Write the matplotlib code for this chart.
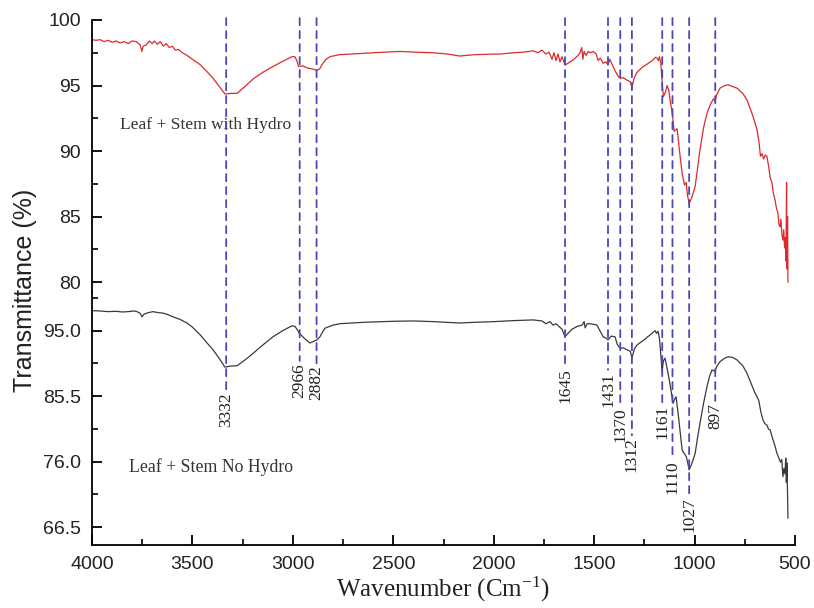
import matplotlib
matplotlib.use("Agg")
import matplotlib.pyplot as plt
from matplotlib.patches import ConnectionPatch
from matplotlib.ticker import MultipleLocator, FixedLocator, FormatStrFormatter

plt.rcParams['mathtext.default'] = 'regular'

# ---- data: Leaf + Stem with Hydro (red, top panel) ----
wn_hydro = [4000, 3980, 3960, 3940, 3920, 3900, 3880, 3860, 3840, 3820, 3800, 3780, 3760, 3752, 3745,
            3730, 3715, 3700, 3690, 3675, 3660, 3645, 3630, 3615, 3600, 3585, 3570, 3550, 3527, 3500,
            3462, 3430, 3397, 3370, 3338, 3310, 3278, 3240, 3198, 3150, 3099, 3050, 3004, 2990, 2980,
            2972, 2950, 2930, 2900, 2880, 2865, 2855, 2835, 2815, 2770, 2715, 2600, 2467, 2400, 2300,
            2230, 2168, 2100, 2000, 1969, 1900, 1850, 1804, 1780, 1760, 1740, 1725, 1710, 1700, 1690,
            1680, 1670, 1660, 1645, 1630, 1605, 1580, 1570, 1562, 1556, 1550, 1540, 1530, 1520, 1505,
            1490, 1480, 1470, 1455, 1440, 1431, 1422, 1410, 1395, 1380, 1371, 1355, 1336, 1320, 1312,
            1300, 1287, 1260, 1230, 1207, 1195, 1187, 1180, 1175, 1168, 1160, 1155, 1145, 1137, 1128,
            1122, 1110, 1102, 1095, 1087, 1075, 1062, 1050, 1042, 1035, 1027, 1015, 1005, 997, 985,
            973, 955, 938, 920, 905, 898, 890, 873, 850, 833, 815, 789, 760, 739, 715,
            700, 689, 680, 672, 664, 656, 648, 640, 632, 624, 615, 608, 600, 592, 585,
            580, 575, 570, 565, 560, 556, 552, 548, 545, 542, 540, 537, 535]
t_hydro = [98.5, 98.45, 98.5, 98.35, 98.45, 98.3, 98.4, 98.25, 98.35, 98.2, 98.4, 98.35, 98.1, 97.6, 98.0,
           98.1, 98.4, 98.2, 98.4, 98.15, 98.35, 98.0, 98.2, 97.9, 98.0, 97.7, 97.75, 97.5, 97.3, 97.0,
           96.6, 96.1, 95.55, 95.0, 94.35, 94.4, 94.4, 94.9, 95.5, 96.0, 96.45, 96.85, 97.2, 97.2, 96.9,
           96.45, 96.5, 96.35, 96.25, 96.15, 96.3, 96.6, 97.0, 97.2, 97.35, 97.4, 97.5, 97.6, 97.55, 97.5,
           97.4, 97.25, 97.35, 97.4, 97.4, 97.5, 97.55, 97.65, 97.5, 97.7, 97.4, 97.55, 97.0, 97.5, 96.9,
           97.4, 96.8, 97.2, 96.55, 96.7, 96.95, 97.3, 97.5, 97.9, 97.0, 97.6, 97.3, 97.6, 97.5, 97.6,
           97.4, 96.9, 97.1, 96.7, 96.8, 96.55, 97.0, 96.6, 96.1, 95.7, 95.55, 95.6, 95.4, 95.3, 94.85,
           95.6, 96.0, 96.4, 96.7, 96.95, 97.15, 97.1, 96.9, 97.2, 96.7, 94.9, 94.15, 94.5, 95.0, 94.6,
           93.9, 92.8, 91.5, 91.6, 91.7, 90.0, 88.3, 87.4, 87.6, 86.6, 86.0, 86.4, 86.9, 87.3, 88.7,
           90.1, 91.8, 92.9, 93.6, 94.0, 93.8, 94.3, 94.8, 95.0, 95.05, 94.95, 94.8, 94.4, 93.9, 92.9,
           92.2, 91.6, 90.8, 89.6, 89.8, 89.4, 89.7, 89.6, 88.9, 88.0, 87.6, 86.8, 86.3, 85.6, 85.3,
           84.4, 84.2, 84.8, 83.6, 83.2, 84.0, 82.6, 83.4, 81.6, 87.6, 81.0, 85.0, 80.0]

# ---- data: Leaf + Stem No Hydro (black, bottom panel) ----
wn_nohydro = [4000, 3960, 3920, 3880, 3850, 3820, 3790, 3776, 3760, 3751, 3740, 3720, 3696, 3670, 3650,
              3630, 3597, 3560, 3527, 3500, 3462, 3430, 3397, 3370, 3338, 3310, 3278, 3240, 3198, 3150,
              3099, 3050, 3004, 2989, 2975, 2968, 2940, 2915, 2900, 2880, 2865, 2850, 2840, 2800, 2765,
              2650, 2500, 2400, 2300, 2230, 2168, 2100, 2000, 1900, 1804, 1760, 1740, 1720, 1705, 1690,
              1675, 1660, 1645, 1630, 1610, 1585, 1560, 1550, 1545, 1535, 1520, 1500, 1486, 1470, 1455,
              1440, 1431, 1415, 1396, 1385, 1371, 1355, 1336, 1320, 1312, 1300, 1287, 1250, 1212, 1197,
              1190, 1182, 1175, 1168, 1162, 1155, 1147, 1140, 1132, 1120, 1107, 1100, 1092, 1080, 1062,
              1055, 1047, 1040, 1027, 1015, 997, 985, 973, 955, 938, 925, 913, 898, 890, 873,
              850, 833, 810, 789, 760, 739, 715, 700, 689, 680, 670, 659, 650, 640, 632,
              624, 610, 600, 590, 580, 572, 566, 560, 555, 550, 546, 543, 540, 538, 536, 535]
t_nohydro = [97.9, 97.85, 97.75, 97.8, 97.7, 97.75, 97.85, 97.75, 97.5, 97.0, 97.4, 97.6, 97.75, 97.6, 97.55,
             97.4, 97.0, 96.6, 96.1, 95.5, 94.4, 93.3, 92.2, 91.1, 89.7, 89.85, 89.9, 90.7, 91.7, 92.9,
             94.1, 95.0, 95.7, 95.6, 95.0, 94.6, 93.8, 93.2, 93.4, 93.65, 94.1, 94.9, 95.35, 95.8, 96.0,
             96.2, 96.35, 96.4, 96.3, 96.2, 96.1, 96.2, 96.3, 96.45, 96.55, 96.4, 96.0, 96.3, 95.8, 96.0,
             95.6, 95.2, 94.1, 94.6, 95.2, 95.6, 95.8, 96.3, 95.4, 96.0, 96.0, 95.9, 95.8, 94.9, 94.1,
             93.9, 93.65, 94.2, 94.1, 93.0, 92.45, 92.5, 92.2, 92.0, 91.0, 92.3, 92.9, 93.7, 94.6, 95.0,
             94.6, 94.9, 93.9, 91.5, 89.05, 90.6, 91.0, 90.0, 88.8, 86.8, 84.45, 85.0, 85.4, 82.5, 77.7,
             77.3, 77.0, 76.6, 74.8, 75.6, 77.2, 79.5, 81.55, 84.5, 86.9, 88.4, 89.3, 89.05, 89.8, 90.5,
             91.0, 91.2, 91.1, 90.75, 89.9, 88.8, 87.1, 86.0, 85.4, 84.8, 83.2, 82.0, 81.5, 81.3, 80.7,
             80.6, 79.2, 78.3, 77.2, 76.5, 75.9, 76.3, 73.8, 75.0, 74.2, 76.5, 73.0, 75.8, 72.5, 70.0, 67.8]

# ---- peak markers ----
peaks = [3332, 2966, 2882, 1645, 1431, 1370, 1312, 1161, 1110, 1027, 897]
peak_label_top = [86.1, 90.3, 89.9, 89.6, 89.0, 83.9, 79.5, 84.2, 76.2, 70.85, 84.5]

label_top = "Leaf + Stem with Hydro"
label_bottom = "Leaf + Stem No Hydro"

top_ticks = [80, 85, 90, 95, 100]
bottom_ticks = [66.5, 76.0, 85.5, 95.0]
x_ticks = [4000, 3500, 3000, 2500, 2000, 1500, 1000, 500]

serif = "Liberation Serif"
sans = "Liberation Sans"

fig = plt.figure(figsize=(8.14, 6.08), dpi=100)
L, R = 92 / 814, 795 / 814
y_top, y_mid, y_bot = 1 - 20 / 608, 1 - 292 / 608, 1 - 545 / 608
ax1 = fig.add_axes([L, y_mid, R - L, y_top - y_mid])
ax2 = fig.add_axes([L, y_bot, R - L, y_mid - y_bot], sharex=ax1)

ax1.plot(wn_hydro, t_hydro, color="#dd2a2a", lw=0.9)
ax2.plot(wn_nohydro, t_nohydro, color="#3a3a3a", lw=0.9)

ax1.set_xlim(4000, 500)
ax1.set_ylim(79.24, 100)
ax2.set_ylim(63.89, 100.6)

for ax in (ax1, ax2):
    ax.spines['top'].set_visible(False)
    ax.spines['right'].set_visible(False)
    ax.spines['left'].set_linewidth(1.3)
    ax.spines['bottom'].set_linewidth(1.3)
    ax.tick_params(axis='both', which='major', direction='in', length=7, width=1.3,
                   labelsize=14)
    ax.tick_params(axis='y', which='major', pad=8)
    ax.tick_params(axis='x', which='major', pad=8)
    ax.tick_params(axis='both', which='minor', direction='in', length=4, width=1.2)

ax1.spines['bottom'].set_visible(False)
ax1.tick_params(axis='x', which='both', bottom=False, labelbottom=False)

ax1.yaxis.set_major_locator(FixedLocator(top_ticks))
ax1.yaxis.set_minor_locator(MultipleLocator(2.5))
ax2.yaxis.set_major_locator(FixedLocator(bottom_ticks))
ax2.yaxis.set_minor_locator(FixedLocator([71.25, 80.75, 90.25, 99.75]))
ax2.yaxis.set_major_formatter(FormatStrFormatter('%.1f'))
ax2.xaxis.set_major_locator(FixedLocator(x_ticks))
ax2.xaxis.set_minor_locator(MultipleLocator(250))

for ax in (ax1, ax2):
    for lab in ax.get_yticklabels() + ax.get_xticklabels():
        lab.set_fontfamily(sans)
        lab.set_fontsize(14)
        lab.set_color("#222222")

# dashed peak lines spanning both panels
for wn, yt in zip(peaks, peak_label_top):
    con = ConnectionPatch(xyA=(wn, 100.15), coordsA=ax1.transData,
                          xyB=(wn, yt + 0.3), coordsB=ax2.transData,
                          color="#4848b8", lw=1.3, linestyle=(0, (4, 3.2)))
    fig.add_artist(con)
    ax2.text(wn, yt, str(wn), rotation=90, ha='center', va='top',
             fontfamily=serif, fontsize=12.5, color="#222222")

ax1.text(3860, 91.95, label_top, fontfamily=serif, fontsize=12.6, color="#333333",
         va='center', ha='left')
ax2.text(3815, 75.2, label_bottom, fontfamily=serif, fontsize=12.8, color="#333333",
         va='center', ha='left')

fig.text(25 / 814, 1 - 290 / 608, "Transmittance (%)", rotation=90, ha='center', va='center',
         fontfamily=sans, fontsize=18, color="#222222")
ax2.set_xlabel("Wavenumber (Cm$^{-1}$)", fontfamily=serif, fontsize=18, labelpad=1,
               color="#222222")

fig.savefig("out.png", dpi=100)
